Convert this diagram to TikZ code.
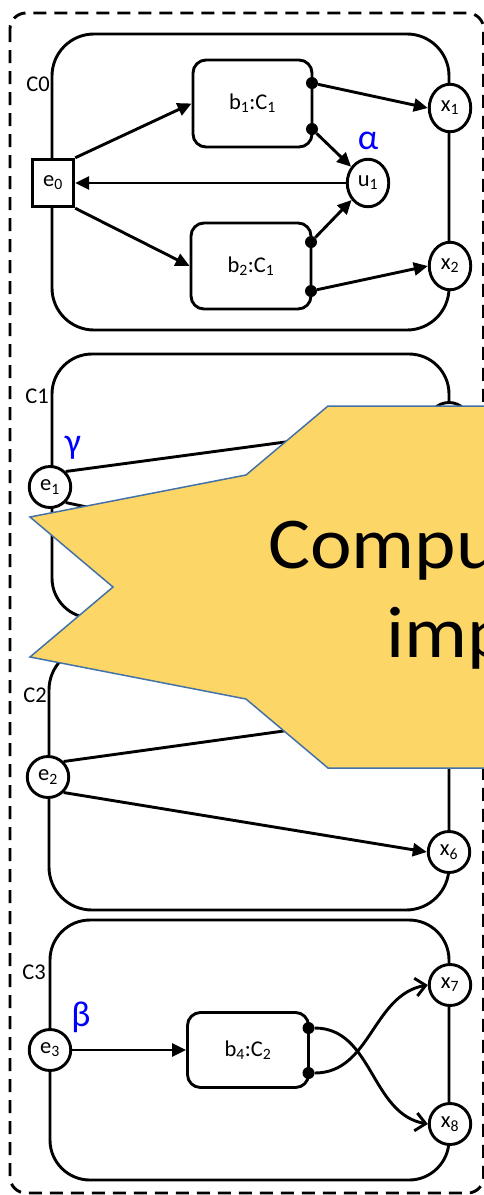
\documentclass[tikz,border=0pt]{standalone}
\usepackage{fontspec}
\setmainfont{Carlito}
\newfontfamily\calloutfont[FakeStretch=1.08]{Carlito}
\usetikzlibrary{arrows.meta,shapes.geometric}
\definecolor{callfill}{RGB}{253,214,104}
\definecolor{calledge}{RGB}{68,114,168}
\definecolor{annot}{RGB}{0,0,255}
\begin{document}
\begin{tikzpicture}[x=1pt,y=-1pt,
  wire/.style={line width=2.9pt, draw=black},
  compbox/.style={wire, rounded corners=#1},
  port/.style={circle, fill=black, inner sep=0pt, minimum size=12pt},
  blockbox/.style={draw, line width=2.9pt, rounded corners=13pt, fill=white, inner sep=0pt,
    font=\fontsize{22.5}{26}\selectfont},
  pnode/.style={draw, line width=2.9pt, ellipse, fill=white, inner sep=0pt,
    minimum width=41.5pt, minimum height=41pt, font=\fontsize{22.5}{26}\selectfont},
  tallnode/.style={pnode, minimum height=47.5pt},
  fa/.style={wire, -{Triangle[length=14pt,width=13pt]}},
  oa/.style={wire, -{Straight Barb[length=10pt,width=18pt]}},
  greek/.style={text=annot, inner sep=0pt, font=\fontsize{36}{42}\selectfont},
  clab/.style={inner sep=0pt, font=\fontsize{22.5}{26}\selectfont},
  bigtext/.style={anchor=base west, inner sep=0pt, font=\calloutfont\fontsize{73}{88}\selectfont}
]
\useasboundingbox (0,0) rectangle (483,1195);

% outer dashed frame
\draw[line width=2.9pt, dash pattern=on 13pt off 8pt, rounded corners=16pt]
  (10,13) rectangle (483.6,1193);

% component frames
\draw[compbox=42pt] (52,34) rectangle (449,330);
\draw[compbox=40pt] (52,354) rectangle (449,618);
\draw[compbox=43pt] (49,647) rectangle (449,910);
\draw[compbox=40pt] (50,920) rectangle (449,1180);

% ---------- C0 ----------
\node[clab] (c0lab) at (38,84) {C0};
\node[draw, line width=2.9pt, fill=white, inner sep=0pt, minimum width=41.5pt,
  minimum height=47.5pt, font=\fontsize{22.5}{26}\selectfont] (e0) at (53,183) {e\textsubscript{0}};
\node[blockbox, minimum width=119pt, minimum height=87pt] (b1) at (252.5,103.5) {b\textsubscript{1}:C\textsubscript{1}};
\node[blockbox, minimum width=120pt, minimum height=86pt] (b2) at (251,266) {b\textsubscript{2}:C\textsubscript{1}};
\node[tallnode] (u1) at (368,183) {u\textsubscript{1}};
\node[tallnode] (x1) at (450,108) {x\textsubscript{1}};
\node[tallnode] (x2) at (450,266) {x\textsubscript{2}};
\node[greek] (alpha) at (368,141) {α};
\node[port] (p1) at (312,83) {};
\node[port] (p2) at (312,129) {};
\node[port] (p3) at (311,242) {};
\node[port] (p4) at (311,291) {};

\draw[fa] (e0.north east) -- (b1.west);
\draw[fa] (e0.south east) -- (b2.west);
\draw[fa] (u1.west) -- (e0.east);
\draw[fa] (p2) -- (u1);
\draw[fa] (p3) -- (u1);
\draw[fa] (p1) -- (x1.west);
\draw[fa] (p4) -- (x2.west);

% ---------- C1 ----------
\node[clab] (c1lab) at (37,396) {C1};
\node[pnode] (e1) at (50,487) {e\textsubscript{1}};
\node[pnode] (x3) at (449,423) {};
\node[greek] (gamma) at (73,448) {γ};
\coordinate (h1) at (428,580);
\draw[fa] (e1.north east) -- (x3.west);
\draw[fa] (e1.south east) -- (h1);

% ---------- C2 ----------
\node[clab] (c2lab) at (35,695) {C2};
\node[pnode] (e2) at (48,777) {e\textsubscript{2}};
\node[pnode] (x6) at (449,852) {x\textsubscript{6}};
\coordinate (h2) at (428,711);
\draw[fa] (e2.north east) -- (h2);
\draw[fa] (e2.south east) -- (x6.west);

% ---------- C3 ----------
\node[clab] (c3lab) at (34,972) {C3};
\node[pnode] (e3) at (50,1050) {e\textsubscript{3}};
\node[greek] (beta) at (81,1017) {β};
\node[blockbox, minimum width=121pt, minimum height=75pt] (b4) at (248,1050) {b\textsubscript{4}:C\textsubscript{2}};
\node[pnode] (x7) at (450,985) {x\textsubscript{7}};
\node[pnode] (x8) at (450,1124) {x\textsubscript{8}};
\node[port] (p5) at (308.5,1028) {};
\node[port] (p6) at (308.5,1073) {};

\draw[fa] (e3) -- (b4.west);
\draw[oa] (p5) to[out=0,in=170] (x8.west);
\draw[oa] (p6) to[out=0,in=190] (x7.west);

% ---------- callout ----------
\draw[draw=calledge, fill=callfill, line width=1.5pt, line join=miter]
  (530,406) -- (328,406) -- (246,475) -- (30,517) -- (113,587) -- (30,657)
  -- (246,699) -- (328,768) -- (530,768) -- cycle;
\node[bigtext] (t1) at (268,568) {Compu};
\node[bigtext] (t2) at (386,657) {imp};
\end{tikzpicture}
\end{document}
